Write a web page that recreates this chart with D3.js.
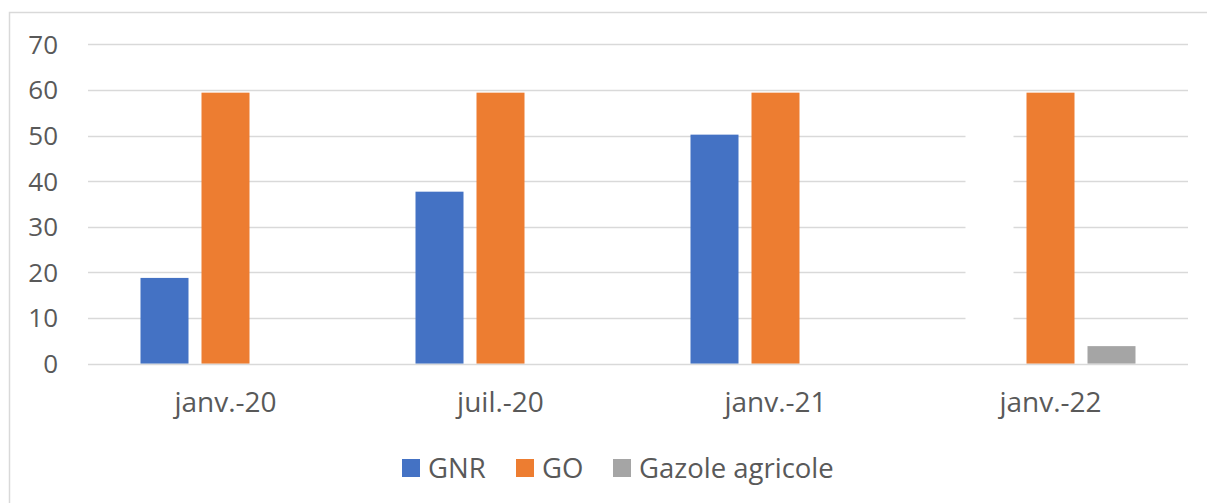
<!DOCTYPE html>
<html>
<head>
<meta charset="utf-8">
<script src="https://cdn.jsdelivr.net/npm/d3@7"></script>
<style>
  html, body { margin: 0; padding: 0; background: #fff; }
  svg { display: block; }
  text { font-family: "Open Sans", "Noto Sans", sans-serif; fill: #595959; }
</style>
</head>
<body>
<svg id="chart" width="1207" height="503"></svg>
<script>
const categories = ["janv.-20", "juil.-20", "janv.-21", "janv.-22"];
const seriesNames = ["GNR", "GO", "Gazole agricole"];
const gnrValues = [18.8, 37.7, 50.2, 55];
const goValues = [59.4, 59.4, 59.4, 59.4];
const agriValues = [0, 0, 0, 3.85];
const yTicks = [0, 10, 20, 30, 40, 50, 60, 70];

const seriesValues = [gnrValues, goValues, agriValues];
const colors = ["#4472C4", "#ED7D31", "#A5A5A5"];
// point drawn with white fill in the original (hides gridlines)
const whitePoint = { series: "GNR", category: "janv.-22" };

const svg = d3.select("#chart");

// outer border
svg.append("rect")
  .attr("x", 9.5).attr("y", 12.5)
  .attr("width", 1400).attr("height", 700)
  .attr("fill", "none").attr("stroke", "#d9d9d9").attr("stroke-width", 1.5);

const x0 = d3.scaleBand().domain(categories).range([88, 1188]).paddingInner(0).paddingOuter(0);
const x1 = d3.scaleBand().domain(seriesNames)
  .range([52.5, 222.5]).paddingInner(13 / 61).paddingOuter(0);
const y = d3.scaleLinear().domain([0, 70]).range([363.7, 44.3]);

// gridlines
svg.append("g").selectAll("line").data(yTicks.filter(d => d !== 0)).join("line")
  .attr("x1", 88).attr("x2", 1188)
  .attr("y1", d => Math.round(y(d)) + 0.5).attr("y2", d => Math.round(y(d)) + 0.5)
  .attr("stroke", "#d9d9d9").attr("stroke-width", 1.3);

// y tick labels
svg.append("g").selectAll("text").data(yTicks).join("text")
  .attr("x", 58).attr("y", d => y(d))
  .attr("dy", "0.36em")
  .attr("text-anchor", "end")
  .attr("font-size", 26)
  .text(d => d);

// bars
const flat = [];
categories.forEach((c, i) => {
  seriesNames.forEach((s, j) => {
    flat.push({ category: c, series: s, value: seriesValues[j][i], color: colors[j] });
  });
});

svg.append("g").selectAll("rect").data(flat.filter(d => d.value > 0)).join("rect")
  .attr("x", d => x0(d.category) + x1(d.series))
  .attr("width", x1.bandwidth())
  .attr("y", d => y(d.value))
  .attr("height", d => y(0) - y(d.value))
  .attr("fill", d => (d.series === whitePoint.series && d.category === whitePoint.category) ? "#ffffff" : d.color);

// baseline
svg.append("line")
  .attr("x1", 88).attr("x2", 1188)
  .attr("y1", Math.round(y(0)) + 0.5).attr("y2", Math.round(y(0)) + 0.5)
  .attr("stroke", "#d9d9d9").attr("stroke-width", 1.3);

// x labels
svg.append("g").selectAll("text").data(categories).join("text")
  .attr("x", d => x0(d) + x0.bandwidth() / 2)
  .attr("y", 412)
  .attr("text-anchor", "middle")
  .attr("font-size", 28)
  .text(d => d);

// legend
const legendX = [402, 516, 613];
const lg = svg.append("g").selectAll("g").data(seriesNames).join("g")
  .attr("transform", (d, i) => `translate(${legendX[i]},459)`);
lg.append("rect").attr("width", 18).attr("height", 18).attr("fill", (d, i) => colors[i]);
lg.append("text").attr("x", 26).attr("y", 19).attr("font-size", 27.5).text(d => d);
</script>
</body>
</html>
